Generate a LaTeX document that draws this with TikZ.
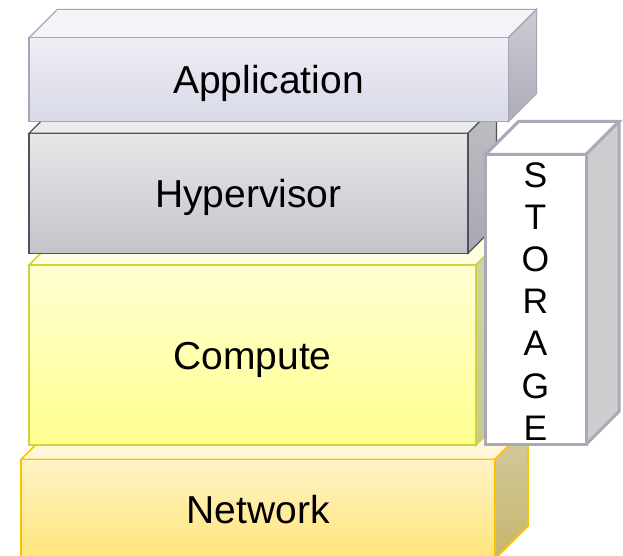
\documentclass[tikz,border=0pt]{standalone}
\usepackage{fontspec}
\setmainfont{Liberation Sans}
\usetikzlibrary{calc}

% layer colours
\definecolor{appline}{HTML}{A6A6B6}
\definecolor{appfronttop}{HTML}{EEEEF6}
\definecolor{appfrontbot}{HTML}{D8D9E7}
\definecolor{apptopface}{HTML}{F3F3F8}
\definecolor{appsidetop}{HTML}{CBCBD3}
\definecolor{appsidebot}{HTML}{ACACBA}

\definecolor{hypline}{HTML}{50505E}
\definecolor{hypfronttop}{HTML}{E8E8EA}
\definecolor{hypfrontbot}{HTML}{C3C3CA}
\definecolor{hyptopface}{HTML}{EBEBEC}
\definecolor{hypsidetop}{HTML}{BEBEC4}
\definecolor{hypsidebot}{HTML}{A8A8B2}

\definecolor{cmpline}{HTML}{CCD43C}
\definecolor{cmpfronttop}{HTML}{FFFFD3}
\definecolor{cmpfrontbot}{HTML}{FFFF8E}
\definecolor{cmptopface}{HTML}{FFFFDF}
\definecolor{cmpsidetop}{HTML}{D4D4A8}
\definecolor{cmpsidebot}{HTML}{C8C890}

\definecolor{netline}{HTML}{FFC000}
\definecolor{netfronttop}{HTML}{FFF3C6}
\definecolor{netfrontbot}{HTML}{FFE57A}
\definecolor{nettopface}{HTML}{FFF7D8}
\definecolor{netsidetop}{HTML}{D2CAA2}
\definecolor{netsidebot}{HTML}{C6B66C}

\definecolor{stoline}{HTML}{A9A9B9}
\definecolor{stoside}{HTML}{CDCDCF}

\tikzset{
  labeltext/.style={font=\fontsize{39}{45}\selectfont, inner sep=0pt, anchor=base},
  appfront/.style={draw=appline, line width=1.2pt, top color=appfronttop, bottom color=appfrontbot},
  apptop/.style={draw=appline, line width=1.2pt, fill=apptopface},
  appside/.style={draw=appline, line width=1.2pt, top color=appsidetop, bottom color=appsidebot},
  hypfront/.style={draw=hypline, line width=1.2pt, top color=hypfronttop, bottom color=hypfrontbot},
  hyptop/.style={draw=hypline, line width=1.2pt, fill=hyptopface},
  hypside/.style={draw=hypline, line width=1.2pt, top color=hypsidetop, bottom color=hypsidebot},
  cmpfront/.style={draw=cmpline, line width=1.6pt, top color=cmpfronttop, bottom color=cmpfrontbot},
  cmptop/.style={draw=cmpline, line width=1.6pt, fill=cmptopface},
  cmpside/.style={draw=cmpline, line width=1.6pt, top color=cmpsidetop, bottom color=cmpsidebot},
  netfront/.style={draw=netline, line width=1.6pt, top color=netfronttop, bottom color=netfrontbot},
  nettop/.style={draw=netline, line width=1.6pt, fill=nettopface},
  netside/.style={draw=netline, line width=1.6pt, top color=netsidetop, bottom color=netsidebot},
  stofront/.style={draw=stoline, line width=3pt, fill=white},
  stotop/.style={draw=stoline, line width=3pt, fill=white},
  stoside/.style={draw=stoline, line width=3pt, fill=stoside, line join=round},
}

% a box seen from the front: left, top, right, bottom, depth, style prefix
\newcommand\drawcuboid[6]{%
  \path[#6top] (#1,#2) -- ++(#5,-#5) -- (#3+#5,#2-#5) -- (#3,#2) -- cycle;
  \path[#6side] (#3,#2) -- (#3+#5,#2-#5) -- (#3+#5,#4-#5) -- (#3,#4) -- cycle;
  \path[#6front] (#1,#2) rectangle (#3,#4);
}

\begin{document}
\begin{tikzpicture}[x=1pt,y=-1pt]
  \useasboundingbox (0,0) rectangle (623,556);
  \clip (0,0) rectangle (623,556);

  % stacked layers, back to front
  \drawcuboid{21}{459.5}{495}{559}{33}{net}
  \drawcuboid{29}{265}{476}{445}{30}{cmp}
  \drawcuboid{29}{133.3}{468}{253.3}{28.5}{hyp}
  \drawcuboid{29}{37.7}{508.3}{121.7}{28.3}{app}

  % storage column at the side
  \drawcuboid{485.5}{154.5}{586}{444.5}{33}{sto}

  \node[labeltext] (application) at (268.5,93.5) {Application};
  \node[labeltext] (hypervisor)  at (248.5,207) {Hypervisor};
  \node[labeltext] (compute)     at (252.5,369) {Compute};
  \node[labeltext] (network)     at (258,523) {Network};

  \node[font=\fontsize{35.5}{42.1}\selectfont, align=center, inner sep=0pt]
    (storage) at (535.5,301.5) {S\\T\\O\\R\\A\\G\\E};
\end{tikzpicture}
\end{document}
